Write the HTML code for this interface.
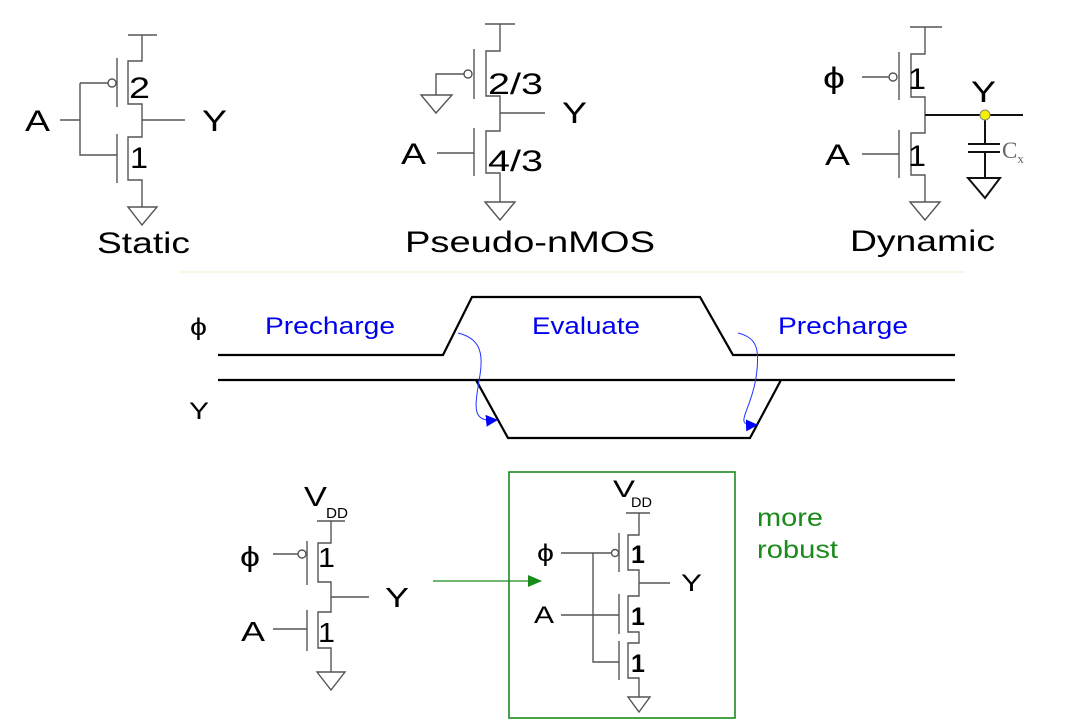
<!DOCTYPE html>
<html><head><meta charset="utf-8"><style>
html,body{margin:0;padding:0;background:#fff;}
svg{display:block;font-family:"Liberation Sans",sans-serif;}
</style></head><body>
<svg width="1076" height="728" viewBox="0 0 1076 728">
<defs><marker id="ab" markerWidth="12" markerHeight="12" refX="10" refY="6" orient="auto" markerUnits="userSpaceOnUse"><path d="M0,0 L12,6 L0,12 z" fill="#0000ff"/></marker>
<marker id="ag" markerWidth="14" markerHeight="12" refX="13" refY="6" orient="auto" markerUnits="userSpaceOnUse"><path d="M0,0 L14,6 L0,12 z" fill="#1a8a1a"/></marker></defs>

<g fill="none" stroke="#555" stroke-width="1.4">
<path d="M128,35 H157 M142,35 V61 H128 V104 H142 V137 H128 V180 H142 V207"/>
<path d="M117,58 V107 M117,134 V183"/>
<circle cx="112" cy="83" r="4" fill="#fff"/>
<path d="M80,83 H108 M80,83 V155 H117 M60,120 H80 M142,120 H185"/>
<polygon points="128,207 157,207 142,225"/>
</g>
<g font-size="30" fill="#000">
<text x="25" y="131" textLength="25" lengthAdjust="spacingAndGlyphs">A</text><text x="202" y="131" textLength="25" lengthAdjust="spacingAndGlyphs">Y</text>
<text x="129" y="98" textLength="21" lengthAdjust="spacingAndGlyphs">2</text><text x="130" y="168" textLength="18" lengthAdjust="spacingAndGlyphs">1</text>
<text x="97" y="253" textLength="93" lengthAdjust="spacingAndGlyphs">Static</text>
</g>

<g fill="none" stroke="#555" stroke-width="1.4">
<path d="M485,24 H515 M500,24 V51 H486 V96 H500 V131 H486 V173 H500 V202"/>
<path d="M474,49 V99 M474,128 V176"/>
<circle cx="468" cy="74" r="4" fill="#fff"/>
<path d="M464,74 H436 V95 M500,113 H545 M437,153 H474"/>
<polygon points="421,95 452,95 436,113"/>
<polygon points="485,202 515,202 500,220"/>
</g>
<g font-size="30" fill="#000">
<text x="401" y="164" textLength="25" lengthAdjust="spacingAndGlyphs">A</text><text x="562" y="123" textLength="25" lengthAdjust="spacingAndGlyphs">Y</text>
<text x="488" y="94" textLength="55" lengthAdjust="spacingAndGlyphs">2/3</text><text x="488" y="171" textLength="55" lengthAdjust="spacingAndGlyphs">4/3</text>
<text x="405" y="252" textLength="250" lengthAdjust="spacingAndGlyphs">Pseudo-nMOS</text>
</g>

<g fill="none" stroke="#555" stroke-width="1.4">
<path d="M910,27 H942 M925,27 V54 H911 V97 H925 V133 H911 V175 H925 V202"/>
<path d="M899,52 V100 M899,130 V178"/>
<circle cx="893" cy="77" r="4" fill="#fff"/>
<path d="M862,77 H889 M862,154 H899"/>
<polygon points="910,202 940,202 925,220"/>
<path d="M925,115 H1023 M985,115 V144 M968,144 H1000 M968,152 H1000 M985,152 V178" stroke="#111" stroke-width="2"/>
<polygon points="968,178 1000,178 985,198" stroke="#111" stroke-width="2"/>
<circle cx="985" cy="115" r="5" fill="#f4f000" stroke="#887" stroke-width="1"/>
</g>
<g font-size="30" fill="#000">
<text x="823" y="88" textLength="22" lengthAdjust="spacingAndGlyphs">ϕ</text><text x="825" y="165" textLength="25" lengthAdjust="spacingAndGlyphs">A</text>
<text x="971" y="102" textLength="25" lengthAdjust="spacingAndGlyphs">Y</text>
<text x="1002" y="158" font-family="Liberation Serif" font-size="23" fill="#666">C<tspan font-size="13" dy="5">x</tspan></text>
<text x="908" y="89" textLength="18" lengthAdjust="spacingAndGlyphs">1</text><text x="908" y="166" textLength="18" lengthAdjust="spacingAndGlyphs">1</text>
<text x="850" y="251" textLength="145" lengthAdjust="spacingAndGlyphs">Dynamic</text>
</g>

<line x1="180" y1="272" x2="965" y2="272" stroke="#fbf6e4" stroke-width="2"/>

<g fill="none" stroke="#000" stroke-width="2.2">
<polyline points="218,355 443,355 472,297 700,297 733,355 955,355"/>
<polyline points="218,380 955,380"/>
<polyline points="476,380 508,438 750,438 781,380"/>
<path d="M458,333 C478,338 484,350 480,375 C474,410 472,422 496,420" stroke="#2233ff" stroke-width="1" marker-end="url(#ab)"/>
<path d="M738,333 C758,338 760,350 756,378 C750,414 732,426 756,425" stroke="#2233ff" stroke-width="1" marker-end="url(#ab)"/>
</g>
<g font-size="24">
<text x="190" y="335" textLength="17" lengthAdjust="spacingAndGlyphs">ϕ</text><text x="189" y="419" textLength="20" lengthAdjust="spacingAndGlyphs">Y</text>
<text x="265" y="334" fill="#0000ee" textLength="130" lengthAdjust="spacingAndGlyphs">Precharge</text>
<text x="532" y="334" fill="#0000ee" textLength="108" lengthAdjust="spacingAndGlyphs">Evaluate</text>
<text x="778" y="334" fill="#0000ee" textLength="130" lengthAdjust="spacingAndGlyphs">Precharge</text>
</g>

<g fill="none" stroke="#555" stroke-width="1.4">
<path d="M317,521 H345 M331,521 V543 H318 V582 H331 V612 H318 V648 H331 V672"/>
<path d="M307,541 V585 M307,610 V651"/>
<circle cx="302" cy="554" r="4" fill="#fff"/>
<path d="M273,554 H298 M331,597 H369 M273,629 H307"/>
<polygon points="317,672 345,672 331,690"/>
</g>
<g font-size="28" fill="#000">
<text x="304" y="506" textLength="23" lengthAdjust="spacingAndGlyphs">V</text><text x="326" y="518" font-size="15" textLength="22" lengthAdjust="spacingAndGlyphs">DD</text>
<text x="240" y="566" textLength="20" lengthAdjust="spacingAndGlyphs">ϕ</text><text x="241" y="641" textLength="24" lengthAdjust="spacingAndGlyphs">A</text><text x="385" y="607" textLength="24" lengthAdjust="spacingAndGlyphs">Y</text>
<text x="318" y="567" textLength="17" lengthAdjust="spacingAndGlyphs">1</text><text x="318" y="642" textLength="17" lengthAdjust="spacingAndGlyphs">1</text>
</g>

<line x1="433" y1="581" x2="541" y2="581" stroke="#1a8a1a" stroke-width="1.2" marker-end="url(#ag)"/>
<rect x="509" y="472" width="226" height="246" fill="none" stroke="#1a8a1a" stroke-width="1.6"/>

<g fill="none" stroke="#555" stroke-width="1.4">
<path d="M626,513 H650 M639,513 V535 H628 V570 H639 V596 H628 V632 H639 V643 H628 V678 H639 V697"/>
<path d="M619,533 V572 M619,594 V634 M619,641 V680"/>
<circle cx="615" cy="553" r="3.5" fill="#fff"/>
<path d="M561,553 H611 M593,553 V662 H619 M561,615 H619 M639,583 H670"/>
<polygon points="628,697 650,697 639,712"/>
</g>
<g font-size="24" fill="#000">
<text x="613" y="497" textLength="22" lengthAdjust="spacingAndGlyphs">V</text><text x="631" y="507" font-size="14" textLength="21" lengthAdjust="spacingAndGlyphs">DD</text>
<text x="537" y="561" textLength="17" lengthAdjust="spacingAndGlyphs">ϕ</text><text x="534" y="623" textLength="20" lengthAdjust="spacingAndGlyphs">A</text><text x="681" y="591" textLength="21" lengthAdjust="spacingAndGlyphs">Y</text>
<text x="631" y="563" font-weight="bold" font-size="25">1</text>
<text x="631" y="625" font-weight="bold" font-size="25">1</text>
<text x="631" y="672" font-weight="bold" font-size="25">1</text>
</g>
<g font-size="25" fill="#1a8a1a">
<text x="757" y="526" textLength="66" lengthAdjust="spacingAndGlyphs">more</text><text x="757" y="558" textLength="81" lengthAdjust="spacingAndGlyphs">robust</text>
</g>
</svg>
</body></html>
